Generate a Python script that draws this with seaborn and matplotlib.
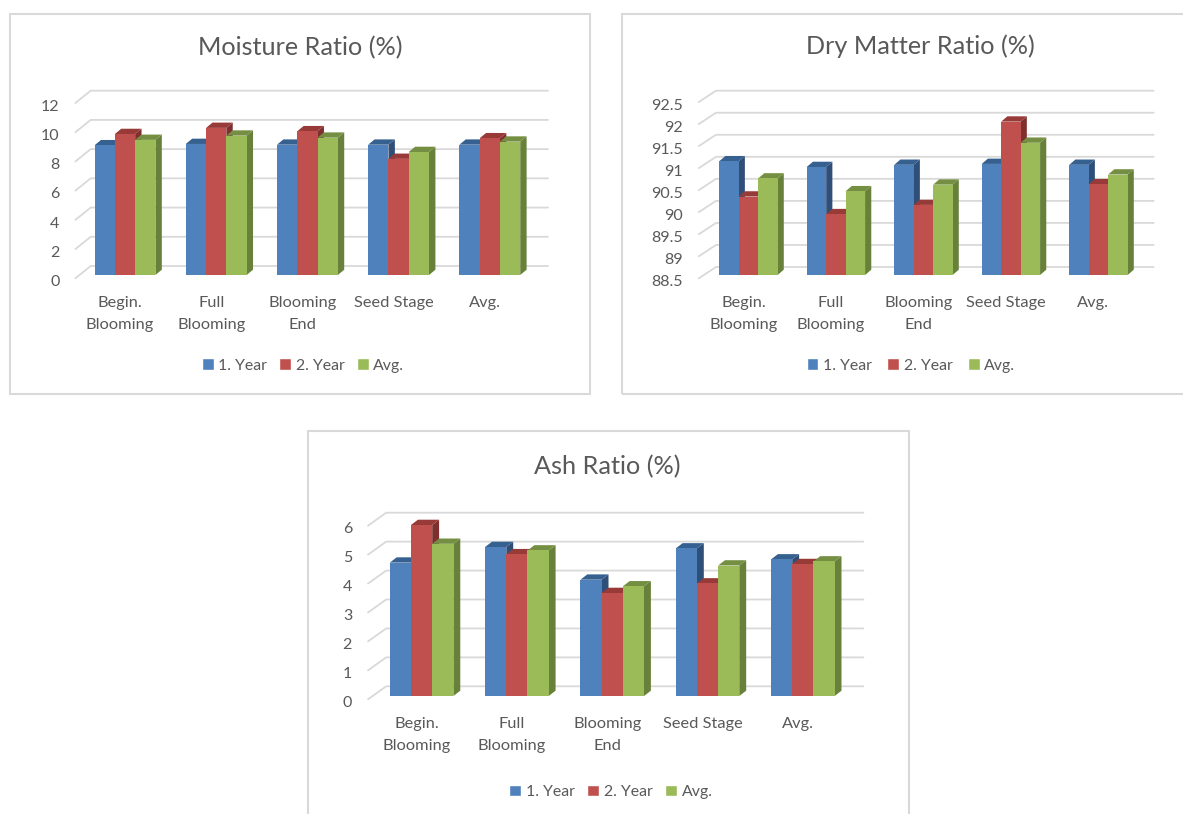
import matplotlib
matplotlib.use("Agg")
import matplotlib.pyplot as plt
from matplotlib.patches import Polygon, Rectangle
from matplotlib.transforms import ScaledTranslation
import pandas as pd
import seaborn as sns

stages = ["Begin.\nBlooming", "Full\nBlooming", "Blooming\nEnd", "Seed Stage", "Avg."]
series_names = ["1. Year", "2. Year", "Avg."]

moisture_y1 = [8.88, 8.97, 8.92, 8.92, 8.92]
moisture_y2 = [9.65, 10.07, 9.84, 7.95, 9.36]
moisture_avg = [9.25, 9.54, 9.40, 8.42, 9.13]
moisture_ticks = [0, 2, 4, 6, 8, 10, 12]
moisture_labels = ["0", "2", "4", "6", "8", "10", "12"]

dry_y1 = [91.08, 90.95, 91.00, 91.02, 91.00]
dry_y2 = [90.28, 89.88, 90.09, 91.98, 90.56]
dry_avg = [90.69, 90.40, 90.55, 91.50, 90.78]
dry_ticks = [88.5, 89, 89.5, 90, 90.5, 91, 91.5, 92, 92.5]
dry_labels = ["88.5", "89", "89.5", "90", "90.5", "91", "91.5", "92", "92.5"]

ash_y1 = [4.61, 5.15, 4.02, 5.10, 4.72]
ash_y2 = [5.91, 4.90, 3.56, 3.89, 4.56]
ash_avg = [5.26, 5.03, 3.79, 4.51, 4.65]
ash_ticks = [0, 1, 2, 3, 4, 5, 6]
ash_labels = ["0", "1", "2", "3", "4", "5", "6"]

FRONT = ["#4F81BD", "#C0504D", "#9BBB59"]
SIDE = ["#2F4F78", "#7F2F2E", "#67803A"]
TOP = ["#36608F", "#983A38", "#758F42"]
GRID = "#D9D9D9"
TEXT = "#595959"

W, H = 1183, 814
sns.set_theme(style="white")
plt.rcParams["font.family"] = ["Lato", "DejaVu Sans"]
fig = plt.figure(figsize=(W / 100, H / 100), dpi=100, facecolor="white")


def add_panel(title, values, ticks, tick_labels, frame, title_xy, left, back_x, right,
              base, back0, back_top, center0, pitch, depth, legend_xy, legend_gap):
    # frame outline, in pixels from the top-left corner
    x0, y0, x1, y1 = frame
    fig.add_artist(Rectangle((x0 / W, 1 - y1 / H), (x1 - x0) / W, (y1 - y0) / H,
                             transform=fig.transFigure, fill=False, ec=GRID, lw=1.5))
    fig.text(title_xy[0] / W, 1 - title_xy[1] / H, title, ha="center", va="center",
             fontsize=18.2, color=TEXT)

    ax = fig.add_axes([left / W, 1 - base / H, (right - left) / W, (base - back_top) / H])
    frame_long = pd.DataFrame({
        "stage": stages * 3,
        "value": [v for s in values for v in s],
        "series": [n for n in series_names for _ in stages],
    })
    sns.barplot(data=frame_long, x="stage", y="value", hue="series", palette=FRONT,
                saturation=1, width=0.667, gap=0, ax=ax, zorder=4)

    ppu = (back0 - back_top) / (ticks[-1] - ticks[0])
    floor = ticks[0]
    dx, dy = depth[0] / pitch, depth[1] / ppu
    xlim = ((left - center0) / pitch, (right - center0) / pitch)
    ylim = (floor, floor + (base - back_top) / ppu)

    # gridlines along the back wall, each with its slanted run to the front
    back_shift = (base - back0) / ppu
    front_shift = -3.3 / ppu
    back_start = xlim[0] + (back_x - left) / pitch
    for t in ticks:
        ax.plot([xlim[0], back_start, xlim[1]],
                [t + front_shift, t + back_shift, t + back_shift],
                color=GRID, lw=1.3, clip_on=False, zorder=1)

    # extruded top and side faces for every bar
    for i, container in enumerate(ax.containers):
        for bar in container:
            bar.set_zorder(4 + 2 * i)
            bar.set_linewidth(0)
            xa, xb = bar.get_x(), bar.get_x() + bar.get_width()
            top = bar.get_height()
            ax.add_patch(Polygon([(xb, floor), (xb + dx, floor + dy), (xb + dx, top + dy), (xb, top)],
                                 fc=SIDE[i], ec="none", zorder=3 + 2 * i, clip_on=False))
            ax.add_patch(Polygon([(xa, top), (xa + dx, top + dy), (xb + dx, top + dy), (xb, top)],
                                 fc=TOP[i], ec="none", zorder=3 + 2 * i, clip_on=False))

    ax.set_xlim(xlim)
    ax.set_ylim(ylim)
    ax.set_yticks(ticks)
    ax.set_yticklabels(tick_labels)
    ax.set_xlabel("")
    ax.set_ylabel("")
    ax.set_title("")
    ax.patch.set_visible(False)
    sns.despine(ax=ax, left=True, bottom=True)
    ax.tick_params(axis="y", length=0, pad=11.5, labelsize=11.5, labelcolor=TEXT)
    ax.tick_params(axis="x", length=0, pad=15.2, labelsize=11.8, labelcolor=TEXT)

    # labels sit on the front edge of the floor, a little left of the bars
    y_offset = ScaledTranslation(0, -5.5 / 100, fig.dpi_scale_trans)
    x_offset = ScaledTranslation(-5 / 100, 0, fig.dpi_scale_trans)
    for label in ax.get_yticklabels():
        label.set_transform(label.get_transform() + y_offset)
    for label in ax.get_xticklabels():
        label.set_transform(label.get_transform() + x_offset)
        label.set_linespacing(1.7)

    sns.move_legend(ax, "center", bbox_to_anchor=(legend_xy[0] / W, 1 - legend_xy[1] / H),
                    bbox_transform=fig.transFigure, ncol=3, frameon=False, title=None,
                    fontsize=11.4, labelcolor=TEXT, handlelength=0.75, handleheight=0.75,
                    handletextpad=0.3, columnspacing=legend_gap)
    return ax


add_panel("Moisture Ratio (%)", [moisture_y1, moisture_y2, moisture_avg],
          moisture_ticks, moisture_labels,
          frame=(10, 14, 590, 394), title_xy=(300, 48), left=75.4, back_x=90.7, right=548,
          base=275, back0=266, back_top=90.7, center0=125, pitch=91.2, depth=(6.4, 5.3),
          legend_xy=(303, 365.5), legend_gap=0.75)
add_panel("Dry Matter Ratio (%)", [dry_y1, dry_y2, dry_avg],
          dry_ticks, dry_labels,
          frame=(622, 14, 1200, 394), title_xy=(920.5, 46), left=698.8, back_x=716, right=1153.7,
          base=275, back0=267, back_top=90.7, center0=748.4, pitch=87.5, depth=(6.2, 5.3),
          legend_xy=(911, 365.5), legend_gap=0.95)
add_panel("Ash Ratio (%)", [ash_y1, ash_y2, ash_avg],
          ash_ticks, ash_labels,
          frame=(308, 431, 909, 830), title_xy=(607.5, 466.5), left=368, back_x=386.2, right=863.4,
          base=696, back0=686.3, back_top=512.7, center0=421.6, pitch=95.3, depth=(6.9, 5.3),
          legend_xy=(611, 792), legend_gap=0.8)

fig.savefig("out.png", dpi=100, facecolor="white")
